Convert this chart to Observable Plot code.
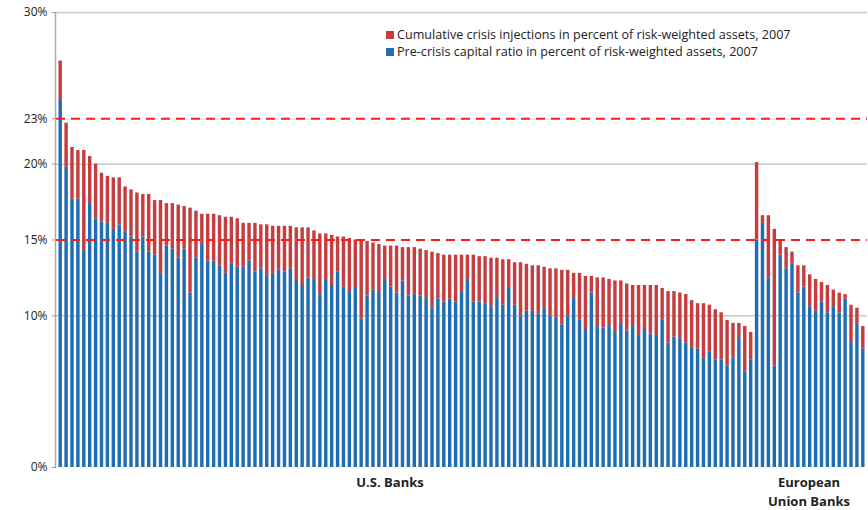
<!DOCTYPE html>
<html>
<head>
<meta charset="utf-8">
<script src="https://cdn.jsdelivr.net/npm/d3@7"></script>
<script src="https://cdn.jsdelivr.net/npm/@observablehq/plot@0.6"></script>
<style>
  body { margin: 0; background: #fff; font-family: "Open Sans", sans-serif; }
  #wrap { position: relative; width: 868px; height: 510px; }
  .legend { position: absolute; left: 386px; top: 26px; font-size: 12.6px; line-height: 17px; color: #222; white-space: nowrap; }
  .legend span.sw { display: inline-block; width: 8px; height: 8px; margin-right: 3px; }
  .lab { position: absolute; font-size: 13px; font-weight: bold; color: #222; text-align: center; line-height: 19px; }
</style>
</head>
<body>
<div id="wrap">
  <div id="chart"></div>
  <div class="legend">
    <div><span class="sw" style="background:#c63d3f"></span>Cumulative crisis injections in percent of risk-weighted assets, 2007</div>
    <div><span class="sw" style="background:#1f6db2"></span>Pre-crisis capital ratio in percent of risk-weighted assets, 2007</div>
  </div>
  <div class="lab" style="left:330px; top:473px; width:120px">U.S. Banks</div>
  <div class="lab" style="left:752px; top:473px; width:114px">European<br>Union Banks</div>
</div>
<script>
// total height of bar (capital + injections), in percent
const usTotal = [26.8, 22.7, 21.1, 20.9, 20.9, 20.5, 20.0, 19.4, 19.2, 19.1, 19.1, 18.5, 18.3, 18.1, 18.0, 18.0, 17.6, 17.6, 17.4, 17.4,
  17.3, 17.2, 17.1, 16.9, 16.7, 16.7, 16.7, 16.6, 16.5, 16.5, 16.4, 16.1, 16.1, 16.1, 16.0, 16.0, 15.9, 15.9, 15.9, 15.9,
  15.8, 15.8, 15.8, 15.6, 15.4, 15.4, 15.3, 15.2, 15.2, 15.1, 15.0, 15.0, 14.9, 14.8, 14.7, 14.6, 14.6, 14.6, 14.5, 14.5,
  14.5, 14.4, 14.3, 14.2, 14.1, 14.0, 14.0, 14.0, 14.0, 14.0, 14.0, 13.9, 13.9, 13.8, 13.8, 13.7, 13.7, 13.5, 13.5, 13.4,
  13.3, 13.3, 13.2, 13.1, 13.1, 13.0, 13.0, 12.8, 12.8, 12.6, 12.6, 12.5, 12.5, 12.4, 12.3, 12.3, 12.1, 12.0, 12.0, 12.0,
  12.0, 12.0, 11.8, 11.6, 11.6, 11.5, 11.4, 11.0, 10.8, 10.8, 10.7, 10.4, 10.2, 9.7, 9.5, 9.5, 9.3, 8.9]
// pre-crisis capital ratio, in percent
const usCapital = [24.2, 19.8, 17.7, 17.7, 14.3, 17.4, 16.4, 16.2, 16.1, 15.7, 16.0, 15.5, 15.2, 14.2, 15.2, 14.2, 14.0, 12.8, 14.6, 14.4,
  13.8, 14.4, 11.5, 13.8, 14.7, 13.6, 13.6, 13.3, 12.8, 13.4, 13.2, 13.2, 13.6, 12.9, 13.1, 12.6, 12.8, 13.0, 12.9, 13.1,
  12.4, 12.0, 12.5, 12.4, 11.4, 12.4, 12.0, 12.9, 11.9, 11.6, 11.8, 9.8, 11.3, 11.7, 11.6, 12.4, 11.9, 11.5, 12.3, 11.3,
  11.4, 11.3, 11.2, 10.5, 11.1, 10.9, 11.1, 10.9, 11.6, 12.4, 10.9, 10.9, 10.8, 10.6, 11.2, 10.7, 11.8, 10.7, 10.0, 10.3,
  10.3, 10.1, 10.5, 10.0, 9.9, 9.4, 10.0, 11.2, 9.7, 9.1, 11.5, 9.3, 9.2, 9.3, 8.9, 9.5, 9.0, 9.3, 8.7, 9.1,
  8.8, 8.7, 9.7, 8.2, 8.6, 8.5, 8.2, 7.9, 7.8, 7.2, 7.6, 7.1, 7.1, 6.7, 7.2, 8.5, 6.3, 7.1]
const euTotal = [20.1, 16.6, 16.6, 15.7, 14.9, 14.5, 14.2, 13.3, 13.3, 12.7, 12.4, 12.2, 12.0, 11.7, 11.5, 11.4, 10.7, 10.5, 9.3]
const euCapital = [15.0, 16.1, 12.5, 6.7, 14.0, 13.1, 13.4, 11.5, 11.9, 10.6, 10.3, 10.9, 10.2, 10.6, 10.2, 11.1, 8.3, 9.5, 7.8]
const yTicks = [0, 10, 15, 20, 23, 30]

const banks = [
  ...usTotal.map((t, i) => ({id: "US" + i, total: t, capital: usCapital[i]})),
  ...euTotal.map((t, i) => ({id: "EU" + i, total: t, capital: euCapital[i]}))
]

const chart = Plot.plot({
  width: 868,
  height: 510,
  marginLeft: 56,
  marginRight: 1,
  marginTop: 12,
  marginBottom: 43,
  style: {fontFamily: "Open Sans, sans-serif", fontSize: "12px", color: "#222"},
  x: {domain: banks.map(d => d.id), padding: 0.42, axis: null},
  y: {domain: [0, 30], label: null},
  marks: [
    Plot.ruleY([10, 20, 30], {stroke: "#c8c8c8", strokeWidth: 1.5}),
    Plot.barY(banks, {x: "id", y1: 0, y2: "capital", fill: "#1f6db2"}),
    Plot.barY(banks, {x: "id", y1: "capital", y2: "total", fill: "#c63d3f"}),
    Plot.ruleY([15, 23], {stroke: "#ff1a1a", strokeWidth: 2, strokeDasharray: "9,6"}),
    Plot.axisY({ticks: yTicks, tickFormat: d => d + "%", tickSize: 4, stroke: "#999", fontSize: 12, label: null})
  ]
})

// left axis line
d3.select(chart).append("line")
  .attr("x1", 55.5).attr("x2", 55.5).attr("y1", 12).attr("y2", 467)
  .attr("stroke", "#aaa").attr("stroke-width", 1.5)

d3.select("#chart").append(() => chart)
</script>
</body>
</html>
